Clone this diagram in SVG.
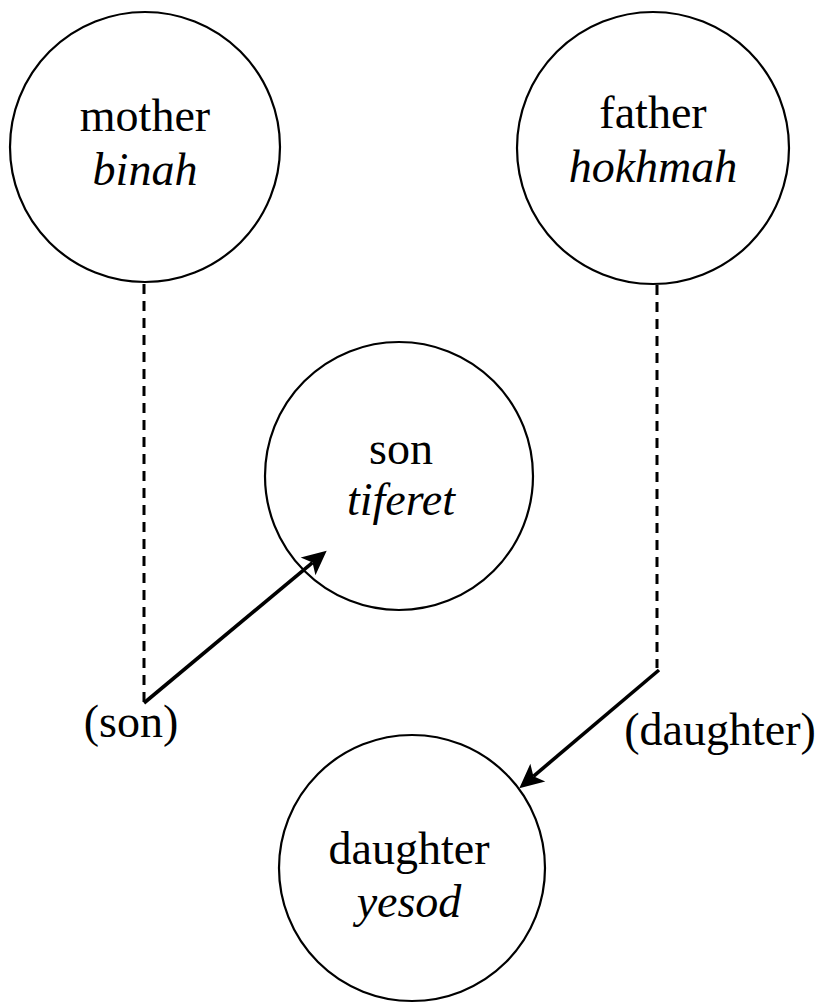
<svg xmlns="http://www.w3.org/2000/svg" width="817" height="1003" viewBox="0 0 817 1003">
<style>
.node{fill:#fff;stroke:#000;stroke-width:2.2}
.t{font-family:"Liberation Serif","Times New Roman",serif;font-size:46px;fill:#000;text-anchor:middle}
.i{font-style:italic}
.dash{stroke:#000;stroke-width:3;stroke-dasharray:10,7;fill:none}
.arr{stroke:#000;stroke-width:3.6;fill:none;marker-end:url(#ah)}
</style>
<defs>
<marker id="ah" markerUnits="userSpaceOnUse" markerWidth="30" markerHeight="30" viewBox="-2 -12 26 24" refX="5" refY="0" orient="auto">
<path d="M0,-10 L21,0 L0,10 L5,0 Z" fill="#000"/>
</marker>
</defs>
<rect width="817" height="1003" fill="#fff"/>
<g id="mother">
<circle class="node" cx="145" cy="147" r="135"/>
<text class="t" x="145" y="131">mother</text>
<text class="t i" x="145" y="185">binah</text>
</g>
<g id="father">
<circle class="node" cx="653" cy="148" r="136"/>
<text class="t" x="653" y="128">father</text>
<text class="t i" x="653" y="182">hokhmah</text>
</g>
<g id="son">
<circle class="node" cx="399" cy="476" r="134"/>
<text class="t" x="401" y="464">son</text>
<text class="t i" x="401" y="515">tiferet</text>
</g>
<g id="daughter">
<circle class="node" cx="412" cy="868" r="133"/>
<text class="t" x="409" y="864">daughter</text>
<text class="t i" x="409" y="917">yesod</text>
</g>
<g id="labels">
<text class="t" x="131" y="737">(son)</text>
<text class="t" x="720" y="745">(daughter)</text>
</g>
<g id="connectors">
<line class="dash" x1="144" y1="284" x2="144" y2="703"/>
<line class="dash" x1="657" y1="285" x2="657" y2="668"/>
<line class="arr" x1="144" y1="703" x2="312.5" y2="562.6"/>
<line class="arr" x1="659" y1="670" x2="533.4" y2="776.3"/>
</g>
</svg>
